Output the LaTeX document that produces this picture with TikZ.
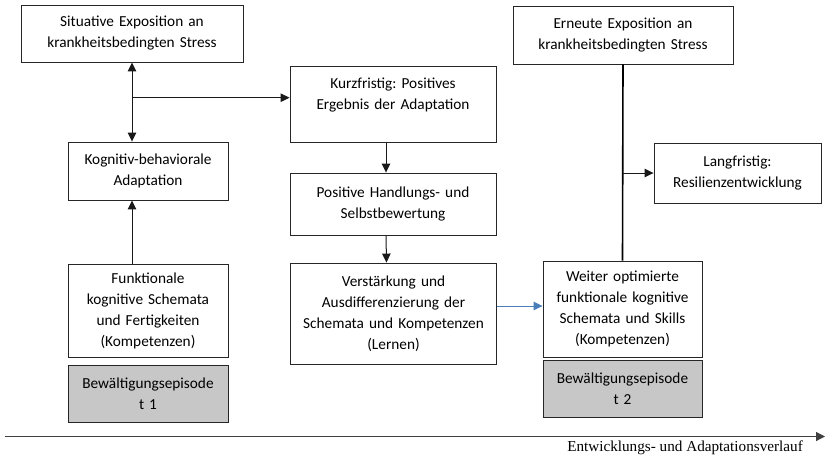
\documentclass[tikz,border=0pt]{standalone}
\usepackage{fontspec}
\setmainfont{Carlito}
\newfontfamily\axisfont{Liberation Serif}
\usetikzlibrary{arrows.meta,calc}
\frenchspacing
\begin{document}
\begin{tikzpicture}[x=1pt,y=-1pt,
  box/.style={draw=black!85, line width=0.9pt, fill=white, align=center,
    inner sep=0pt, font=\fontsize{15.3}{21}\selectfont},
  graybox/.style={box, fill=black!22},
  link/.style={draw=black!90, line width=1pt, -{Triangle[length=9pt,width=8.5pt]}},
  bilink/.style={link, {Triangle[length=9pt,width=8.5pt]}-{Triangle[length=9pt,width=8.5pt]}},
  bluelink/.style={draw={rgb,255:red,74;green,126;blue,187}, line width=1pt,
    -{Triangle[length=9pt,width=8.5pt]}},
  trunk/.style={draw=black, line width=1.6pt},
  axisline/.style={draw=black!75, line width=1.2pt, -{Triangle[length=9pt,width=9pt]}}
]
\useasboundingbox (0,0) rectangle (825,456);

% episode 1
\node[box, text width=222, minimum height=57] (sit) at (132,33.5)
  {Situative Exposition an\\krankheitsbedingten Stress};
\node[box, text width=160, minimum height=58] (kog) at (148,171)
  {Kognitiv-behaviorale\\Adaptation};
\node[box, text width=160, minimum height=93] (fun) at (148,310.5)
  {Funktionale\\kognitive Schemata\\und Fertigkeiten\\(Kompetenzen)};
\node[graybox, text width=160, minimum height=57] (t1) at (148,393.5)
  {Bewältigungsepisode\\t 1};

% middle column
\node[box, text width=206, minimum height=76] (kurz) at (393,104.7)
  {Kurzfristig: Positives\\Ergebnis der Adaptation\\\mbox{}};
\node[box, text width=206, minimum height=62] (pos) at (393,204)
  {Positive Handlungs- und\\Selbstbewertung};
\node[box, text width=206, minimum height=101] (ver) at (393.5,313.5)
  {Verstärkung und\\Ausdifferenzierung der\\Schemata und Kompetenzen\\(Lernen)};

% episode 2
\node[box, text width=220, minimum height=58] (ern) at (623,35)
  {Erneute Exposition an\\krankheitsbedingten Stress};
\node[box, text width=167, minimum height=60] (lang) at (737.5,173)
  {Langfristig:\\Resilienzentwicklung};
\node[box, text width=159, minimum height=96] (wei) at (622.5,309)
  {Weiter optimierte\\funktionale kognitive\\Schemata und Skills\\(Kompetenzen)};
\node[graybox, text width=159, minimum height=57] (t2) at (622.5,389)
  {Bewältigungsepisode\\t 2};

% connectors
\draw[bilink] (sit.south) -- (sit.south |- kog.north);
\coordinate (branch) at (132,97.7);
\draw[link] (branch) -- (branch -| kurz.west);
\draw[link] (fun.north -| sit.south) -- (kog.south -| sit.south);
\draw[link] ($(kurz.south)+(-7,0)$) -- ($(pos.north)+(-7,0)$);
\draw[link] ($(pos.south)+(-7,0)$) -- ($(ver.north)+(-7,0)$);
\draw[bluelink] ($(ver.east)+(0,-7.5)$) -- ($(wei.west)+(0,-3)$);
\draw[trunk] (ern.south) -- (wei.north);
\draw[link] (ern.south |- lang.west) -- (lang.west);

% time axis
\coordinate (axstart) at (5,436.5);
\coordinate (axend) at (825,436.5);
\draw[axisline] (axstart) -- (axend);
\node[anchor=north east, inner sep=0pt, font=\axisfont\fontsize{15.2}{17}\selectfont] (axlabel)
  at (803,441) {Entwicklungs- und Adaptationsverlauf};
\end{tikzpicture}
\end{document}
